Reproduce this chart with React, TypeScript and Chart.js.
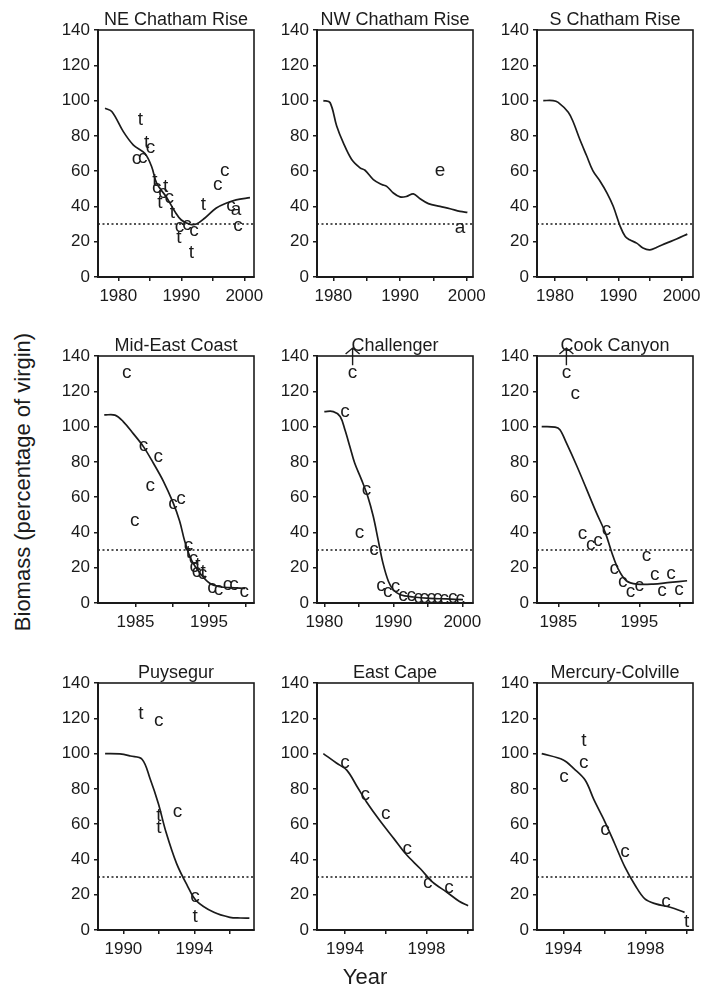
import React, { useEffect, useRef } from 'react';
import { Chart, registerables } from 'chart.js';

Chart.register(...registerables);

const FONT = '"Liberation Sans", Arial, Helvetica, sans-serif';
const INK = '#1b1b1b';
Chart.defaults.font.family = FONT;

// ---------- shared ----------
const yTickValues = [0, 20, 40, 60, 80, 100, 120, 140];
const threshold = 30;

// ---------- NE Chatham Rise ----------
const neLineYears = [1977.9, 1979.0, 1980.8, 1982.4, 1984.2, 1985.3, 1986.1, 1987.6, 1989.0, 1990.0, 1991.3, 1992.4, 1993.7, 1995.5, 1997.1, 1998.7, 2000.9];
const neLineValues = [95.6, 93.7, 82.4, 74.8, 70.1, 62.5, 53.0, 45.5, 37.0, 32.3, 30.0, 30.0, 33.3, 39.0, 41.8, 43.7, 45.0];
const neObsYears = [1983.5, 1984.5, 1985.1, 1982.9, 1983.9, 1985.8, 1986.1, 1986.6, 1987.1, 1987.5, 1988.1, 1988.6, 1989.7, 1989.6, 1990.9, 1992.0, 1991.6, 1993.5, 1995.8, 1996.9, 1997.9, 1998.7, 1999.0];
const neObsValues = [90, 76.7, 73, 66.7, 67.6, 55, 50.3, 42.7, 47.8, 51.6, 44.6, 37, 28.5, 23.2, 29.5, 26.3, 14.7, 41.8, 52.2, 60.3, 40.2, 38, 28.9];
const neObsLabels = ['t', 't', 'c', 'c', 'c', 't', 'c', 't', 'c', 't', 'c', 't', 'c', 't', 'c', 'c', 't', 't', 'c', 'c', 'c', 'a', 'c'];

// ---------- NW Chatham Rise ----------
const nwLineYears = [1978.5, 1979.5, 1980.5, 1981.5, 1982.75, 1984.0, 1984.75, 1986.0, 1987.25, 1988.0, 1989.0, 1990.0, 1991.0, 1992.0, 1993.0, 1994.25, 1996.0, 1997.5, 1999.0, 2000.1];
const nwLineValues = [100, 98.9, 85.6, 76, 66.6, 61.9, 60.5, 55.2, 52.4, 51.4, 47.6, 45.4, 45.7, 47.1, 44.4, 41.6, 40, 38.7, 37.2, 36.6];
const nwObsYears = [1996, 1999];
const nwObsValues = [60, 27.7];
const nwObsLabels = ['e', 'a'];

// ---------- S Chatham Rise ----------
const sLineYears = [1978.15, 1979.7, 1980.5, 1982.1, 1982.9, 1983.9, 1985.0, 1986.0, 1987.1, 1988.2, 1989.2, 1990.3, 1991.1, 1991.8, 1992.9, 1993.9, 1995.0, 1996.1, 1997.6, 1999.2, 2000.9];
const sLineValues = [100, 100, 99, 93.4, 87.7, 78.2, 68.7, 60.1, 54.4, 47.7, 40.1, 28.7, 23, 21.1, 19.2, 16.4, 15.4, 16.9, 19.2, 21.5, 24.3];
const sObsYears: number[] = [];
const sObsValues: number[] = [];
const sObsLabels: string[] = [];

// ---------- Mid-East Coast ----------
const mecLineYears = [1980.75, 1982.2, 1983.3, 1984.7, 1986.1, 1987.4, 1988.8, 1990.1, 1991.0, 1991.7, 1992.6, 1993.8, 1995.1, 1996.5, 1997.9, 1999.9];
const mecLineValues = [106.6, 106.5, 103, 96, 88.5, 79.5, 69, 57, 46.5, 35, 24.4, 16.8, 11.2, 9.2, 8.7, 8.3];
const mecObsYears = [1983.8, 1984.9, 1986.1, 1988.1, 1987.0, 1990.1, 1991.2, 1992.2, 1992.2, 1992.9, 1993.5, 1993.0, 1993.3, 1994.2, 1994.1, 1995.4, 1996.3, 1997.5, 1998.4, 1999.8];
const mecObsValues = [130.6, 46.7, 89, 82.9, 66.3, 56, 58.8, 32.3, 29, 24.8, 22.5, 20.6, 17.8, 18.7, 16.3, 8.3, 7.5, 10.2, 10.0, 6.4];
const mecObsLabels = ['c', 'c', 'c', 'c', 'c', 'c', 'c', 'c', 't', 'c', 't', 'c', 'c', 't', 'c', 'c', 'c', 'c', 'c', 'c'];

// ---------- Challenger ----------
const chLineYears = [1980.0, 1981.3, 1982.3, 1983.0, 1983.7, 1984.4, 1985.4, 1986.3, 1987.1, 1987.8, 1988.5, 1989.3, 1990.0, 1991.0, 1992.9, 1995.3, 1997.7, 2000.1];
const chLineValues = [108.5, 108.5, 105.7, 98, 88.7, 79.3, 69.8, 60.4, 49, 35.8, 22.6, 12.2, 7.5, 4.7, 3.4, 2.6, 2.3, 1.9];
const chObsYears = [1984.1, 1983.0, 1986.1, 1985.1, 1987.2, 1988.2, 1989.2, 1990.3, 1991.4, 1992.6, 1993.6, 1994.5, 1995.5, 1996.4, 1997.4, 1998.6, 1999.7];
const chObsValues = [130.2, 108, 64.2, 39.6, 30.2, 9.4, 6, 8.8, 4.2, 3.8, 2.6, 2.6, 2.6, 2.6, 2.3, 2.6, 2.3];
const chObsLabels = ['c', 'c', 'c', 'c', 'c', 'c', 'c', 'c', 'c', 'c', 'c', 'c', 'c', 'c', 'c', 'c', 'c'];
const chArrowIndex = [0];

// ---------- Cook Canyon ----------
const ccLineYears = [1982.95, 1984.6, 1985.2, 1986.0, 1987.3, 1988.5, 1989.7, 1990.8, 1991.6, 1992.4, 1993.4, 1994.7, 1996.7, 1998.8, 2000.9];
const ccLineValues = [100, 99.7, 98.2, 90.7, 77.5, 64.4, 51.2, 39.9, 28.6, 19.2, 12.6, 10.7, 10.7, 11.7, 12.6];
const ccObsYears = [1986.0, 1987.1, 1988.0, 1989.0, 1989.9, 1990.95, 1991.9, 1992.95, 1993.9, 1995.0, 1995.9, 1996.9, 1997.8, 1998.9, 1999.9];
const ccObsValues = [130.3, 118.6, 39, 32.9, 35.2, 41.2, 19.2, 11.7, 6.4, 9.8, 26.7, 15.8, 6.9, 16.4, 7.5];
const ccObsLabels = ['c', 'c', 'c', 'c', 'c', 'c', 'c', 'c', 'c', 'c', 'c', 'c', 'c', 'c', 'c'];
const ccArrowIndex = [0];

// ---------- Puysegur ----------
const puLineYears = [1988.97, 1989.8, 1990.4, 1991.05, 1991.5, 1991.97, 1992.4, 1993.0, 1993.6, 1994.1, 1995.1, 1996.0, 1996.6, 1997.1];
const puLineValues = [100, 99.8, 98.6, 96.8, 85.9, 71.7, 55.5, 37.6, 25.2, 16.7, 10, 7.2, 6.8, 6.7];
const puObsYears = [1990.98, 1992.0, 1992.0, 1992.0, 1993.05, 1994.04, 1994.04];
const puObsValues = [123.3, 118.6, 65.6, 58.8, 66.6, 18.6, 8.1];
const puObsLabels = ['t', 'c', 't', 't', 'c', 'c', 't'];

// ---------- East Cape ----------
const ecLineYears = [1992.94, 1993.6, 1994.1, 1994.6, 1995.06, 1995.7, 1996.4, 1997.0, 1997.7, 1998.3, 1999.0, 1999.6, 2000.04];
const ecLineValues = [100, 94.5, 90.5, 81.2, 72.6, 62.2, 51.8, 42.9, 34.7, 27.1, 21.4, 16.3, 13.8];
const ecObsYears = [1994, 1995, 1996, 1997.05, 1998.06, 1999.1];
const ecObsValues = [94.5, 76.8, 65.6, 46.1, 26.5, 23.7];
const ecObsLabels = ['c', 'c', 'c', 'c', 'c', 'c'];

// ---------- Mercury-Colville ----------
const mcLineYears = [1992.95, 1994.0, 1994.5, 1995.06, 1995.5, 1996.03, 1996.5, 1997.0, 1997.5, 1997.97, 1998.5, 1999.2, 1999.9];
const mcLineValues = [100, 96.4, 91.6, 85, 73.6, 61.2, 48.9, 35.6, 25.2, 17.6, 14.8, 12.9, 10];
const mcObsYears = [1994.03, 1995.0, 1995.0, 1996.03, 1997.0, 1999.0, 2000.0];
const mcObsValues = [86.9, 108.1, 94.8, 56.9, 44.2, 15.7, 5.3];
const mcObsLabels = ['c', 't', 'c', 'c', 'c', 'c', 't'];

// ---------- layout constants ----------
const YW = 44; // y-axis width
const XH = 32; // x-axis height
const TH = 20; // title height
const PW = 156; // plot width
const PH = 247; // plot height
const RP = 24; // right padding in canvas
const COL_LEFT = [98, 317, 537];
const ROW_TOP = [30, 356, 683];

type Panel = {
  title: string;
  lineX: number[]; lineY: number[];
  obsX: number[]; obsY: number[]; obsL: string[];
  arrows: number[];
  xMin: number; xMax: number; xTicks: number[]; xLabels: number[];
  col: number; row: number;
};

const panels: Panel[] = [
  { title: 'NE Chatham Rise', lineX: neLineYears, lineY: neLineValues, obsX: neObsYears, obsY: neObsValues, obsL: neObsLabels, arrows: [],
    xMin: 1976.78, xMax: 2001.54, xTicks: [1980, 1985, 1990, 1995, 2000], xLabels: [1980, 1990, 2000], col: 0, row: 0 },
  { title: 'NW Chatham Rise', lineX: nwLineYears, lineY: nwLineValues, obsX: nwObsYears, obsY: nwObsValues, obsL: nwObsLabels, arrows: [],
    xMin: 1977.55, xMax: 2000.94, xTicks: [1980, 1985, 1990, 1995, 2000], xLabels: [1980, 1990, 2000], col: 1, row: 0 },
  { title: 'S Chatham Rise', lineX: sLineYears, lineY: sLineValues, obsX: sObsYears, obsY: sObsValues, obsL: sObsLabels, arrows: [],
    xMin: 1977.16, xMax: 2001.8, xTicks: [1980, 1985, 1990, 1995, 2000], xLabels: [1980, 1990, 2000], col: 2, row: 0 },
  { title: 'Mid-East Coast', lineX: mecLineYears, lineY: mecLineValues, obsX: mecObsYears, obsY: mecObsValues, obsL: mecObsLabels, arrows: [],
    xMin: 1979.9, xMax: 2001.12, xTicks: [1985, 1990, 1995, 2000], xLabels: [1985, 1995], col: 0, row: 1 },
  { title: 'Challenger', lineX: chLineYears, lineY: chLineValues, obsX: chObsYears, obsY: chObsValues, obsL: chObsLabels, arrows: chArrowIndex,
    xMin: 1978.94, xMax: 2001.55, xTicks: [1980, 1985, 1990, 1995, 2000], xLabels: [1980, 1990, 2000], col: 1, row: 1 },
  { title: 'Cook Canyon', lineX: ccLineYears, lineY: ccLineValues, obsX: ccObsYears, obsY: ccObsValues, obsL: ccObsLabels, arrows: ccArrowIndex,
    xMin: 1982.37, xMax: 2001.63, xTicks: [1985, 1990, 1995, 2000], xLabels: [1985, 1995], col: 2, row: 1 },
  { title: 'Puysegur', lineX: puLineYears, lineY: puLineValues, obsX: puObsYears, obsY: puObsValues, obsL: puObsLabels, arrows: [],
    xMin: 1988.57, xMax: 1997.36, xTicks: [1990, 1992, 1994, 1996], xLabels: [1990, 1994], col: 0, row: 2 },
  { title: 'East Cape', lineX: ecLineYears, lineY: ecLineValues, obsX: ecObsYears, obsY: ecObsValues, obsL: ecObsLabels, arrows: [],
    xMin: 1992.63, xMax: 2000.28, xTicks: [1994, 1996, 1998, 2000], xLabels: [1994, 1998], col: 1, row: 2 },
  { title: 'Mercury-Colville', lineX: mcLineYears, lineY: mcLineValues, obsX: mcObsYears, obsY: mcObsValues, obsL: mcObsLabels, arrows: [],
    xMin: 1992.72, xMax: 2000.31, xTicks: [1994, 1996, 1998, 2000], xLabels: [1994, 1998], col: 2, row: 2 },
];

const framePlugin = {
  id: 'frame',
  afterDatasetsDraw(chart: any) {
    const { left, top, right, bottom } = chart.chartArea;
    const ctx = chart.ctx;
    ctx.save();
    ctx.strokeStyle = INK;
    ctx.lineWidth = 1.6;
    ctx.strokeRect(left, top, right - left, bottom - top);
    ctx.restore();
  },
};

const lettersPlugin = {
  id: 'letters',
  afterDatasetsDraw(chart: any) {
    const ctx = chart.ctx;
    chart.data.datasets.forEach((ds: any, di: number) => {
      if (!ds.letters) return;
      const meta = chart.getDatasetMeta(di);
      const ys = chart.scales.y;
      ctx.save();
      ctx.font = `19px ${FONT}`;
      ctx.fillStyle = INK;
      ctx.textAlign = 'center';
      ctx.textBaseline = 'alphabetic';
      meta.data.forEach((pt: any, i: number) => {
        const l = ds.letters[i];
        const off = l === 't' ? 6.5 : 5;
        ctx.fillText(l, pt.x, pt.y + off);
      });
      (ds.arrows || []).forEach((i: number) => {
        const pt = meta.data[i];
        const v = ds.data[i].y;
        const y0 = ys.getPixelForValue(v + 4.5);
        const y1 = ys.getPixelForValue(144.5);
        ctx.strokeStyle = INK;
        ctx.lineWidth = 1.4;
        ctx.beginPath();
        ctx.moveTo(pt.x, y0);
        ctx.lineTo(pt.x, y1);
        ctx.moveTo(pt.x - 7, y1 + 6);
        ctx.lineTo(pt.x, y1);
        ctx.lineTo(pt.x + 7, y1 + 6);
        ctx.stroke();
      });
      ctx.restore();
    });
  },
};

function buildConfig(p: Panel): any {
  const lineData = p.lineX.map((x, i) => ({ x, y: p.lineY[i] }));
  const obsData = p.obsX.map((x, i) => ({ x, y: p.obsY[i] }));
  const refData = [{ x: p.xMin, y: threshold }, { x: p.xMax, y: threshold }];
  const axisCommon = {
    type: 'linear',
    grid: { drawOnChartArea: false, drawTicks: true, tickLength: 4, color: INK, lineWidth: 1.5 },
    border: { display: true, color: INK, width: 2 },
  };
  return {
    type: 'line',
    data: {
      datasets: [
        { data: refData, borderColor: INK, borderWidth: 1.4, borderDash: [2, 2.5], pointRadius: 0, fill: false },
        { data: lineData, borderColor: INK, borderWidth: 1.7, pointRadius: 0, fill: false, tension: 0.35 },
        { data: obsData, showLine: false, pointRadius: 0, letters: p.obsL, arrows: p.arrows, clip: false },
      ],
    },
    options: {
      animation: false,
      responsive: true,
      maintainAspectRatio: false,
      events: [],
      layout: { padding: { left: 0, top: 0, right: RP, bottom: 0 } },
      plugins: {
        legend: { display: false },
        tooltip: { enabled: false },
        title: {
          display: true,
          text: p.title,
          color: INK,
          fullSize: false,
          font: { family: FONT, size: 18, weight: 'normal', lineHeight: '20px' },
          padding: { top: 0, bottom: 0 },
        },
      },
      scales: {
        x: {
          ...axisCommon,
          min: p.xMin,
          max: p.xMax,
          afterBuildTicks: (s: any) => { s.ticks = p.xTicks.map((v) => ({ value: v })); },
          afterFit: (s: any) => { s.height = XH; s.paddingLeft = 0; s.paddingRight = 0; },
          ticks: {
            autoSkip: false, maxRotation: 0, minRotation: 0, padding: 5, color: INK,
            font: { family: FONT, size: 17 },
            callback: (v: any) => (p.xLabels.includes(Number(v)) ? String(v) : ''),
          },
        },
        y: {
          ...axisCommon,
          min: 0,
          max: 140,
          afterBuildTicks: (s: any) => { s.ticks = yTickValues.map((v) => ({ value: v })); },
          afterFit: (s: any) => { s.width = YW; s.paddingTop = 0; s.paddingBottom = 0; },
          ticks: {
            padding: 4, color: INK,
            font: { family: FONT, size: 17 },
            callback: (v: any) => String(v),
          },
        },
      },
    },
    plugins: [framePlugin, lettersPlugin],
  };
}

function PanelChart({ p }: { p: Panel }) {
  const ref = useRef<HTMLCanvasElement>(null);
  useEffect(() => {
    const chart = new Chart(ref.current as HTMLCanvasElement, buildConfig(p));
    return () => chart.destroy();
  }, [p]);
  const left = COL_LEFT[p.col] - YW;
  const top = ROW_TOP[p.row] - TH;
  return (
    <div style={{ position: 'absolute', left, top, width: YW + PW + RP, height: TH + PH + XH }}>
      <canvas ref={ref} />
    </div>
  );
}

export default function App() {
  return (
    <div style={{ position: 'absolute', left: 0, top: 0, width: 716, height: 997, background: '#fff', overflow: 'hidden', fontFamily: FONT, color: INK }}>
      {panels.map((p) => (
        <PanelChart key={p.title} p={p} />
      ))}
      <div
        style={{
          position: 'absolute', left: 23, top: 482, transform: 'translate(-50%, -50%) rotate(-90deg)',
          whiteSpace: 'nowrap', fontSize: 22, lineHeight: '24px',
        }}
      >
        Biomass (percentage of virgin)
      </div>
      <div
        style={{
          position: 'absolute', left: 365, top: 977, transform: 'translate(-50%, -50%)',
          whiteSpace: 'nowrap', fontSize: 22, lineHeight: '24px',
        }}
      >
        Year
      </div>
    </div>
  );
}
